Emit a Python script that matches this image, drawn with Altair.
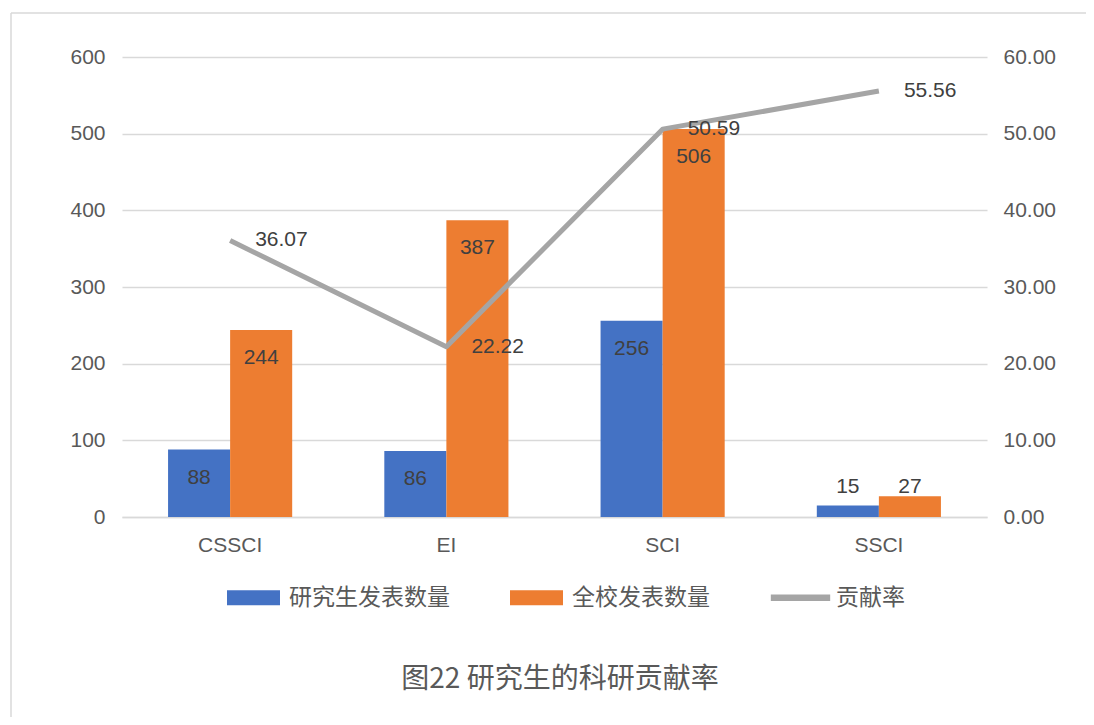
import altair as alt
import pandas as pd

categories = ["CSSCI", "EI", "SCI", "SSCI"]
grad_counts = [88, 86, 256, 15]
school_counts = [244, 387, 506, 27]
rates = [36.07, 22.22, 50.59, 55.56]
series_names = ["研究生发表数量", "全校发表数量", "贡献率"]
left_ticks = [0, 100, 200, 300, 400, 500, 600]
right_ticks = [0, 10, 20, 30, 40, 50, 60]
title_text = "图22 研究生的科研贡献率"

BLUE, ORANGE, GRAY = "#4472C4", "#ED7D31", "#A5A5A5"
NUM_FONT = "Liberation Sans"
CJK_FONT = "Noto Sans CJK SC"

RECT_PATH = "M-1,-0.283H1V0.283H-1Z"
LINE_PATH = "M-1.12,-0.12H1.12V0.12H-1.12Z"

rows = []
for c, g, s in zip(categories, grad_counts, school_counts):
    rows.append({"cat": c, "series": series_names[0], "v": g})
    rows.append({"cat": c, "series": series_names[1], "v": s})
bars_df = pd.DataFrame(rows)
line_df = pd.DataFrame({"cat": categories, "rate": rates})
legend_df = pd.DataFrame({"series": series_names})

color_scale = alt.Scale(domain=series_names, range=[BLUE, ORANGE, GRAY])
legend_kw = dict(title=None, orient="none", direction="horizontal",
                 legendX=105, legendY=514, padding=0,
                 symbolSize=2809, symbolStrokeWidth=0,
                 labelFont=CJK_FONT, labelFontSize=23,
                 labelColor="#595959", labelOffset=9,
                 columnPadding=60, labelLimit=400)

x_enc = alt.X("cat:N", sort=categories,
              scale=alt.Scale(domain=categories, paddingInner=0.426, paddingOuter=0.213),
              axis=alt.Axis(title=None, labelAngle=0, ticks=False, domain=True,
                            domainColor="#d9d9d9", domainWidth=1.3, labelPadding=17,
                            labelFont=NUM_FONT, labelFontSize=21, labelColor="#595959"))
xoff = alt.XOffset("series:N", sort=series_names[:2],
                   scale=alt.Scale(domain=series_names[:2], paddingInner=0, paddingOuter=0))
y_left = alt.Y("v:Q", scale=alt.Scale(domain=[0, 600], nice=False),
               axis=alt.Axis(title=None, values=left_ticks, grid=True, gridColor="#d9d9d9",
                             gridWidth=1.3, domain=False, ticks=False, labelPadding=17,
                             labelFont=NUM_FONT, labelFontSize=21, labelColor="#595959"))

bars = alt.Chart(bars_df).mark_bar().encode(
    x=x_enc,
    xOffset=xoff,
    y=y_left,
    color=alt.Color("series:N", scale=color_scale, sort=series_names,
                    legend=alt.Legend(**legend_kw)),
)

bar_labels = alt.Chart(bars_df).transform_calculate(
    ly="max(datum.v - 36.5, 39)"
).mark_text(font=NUM_FONT, fontSize=21, color="#404040", baseline="middle").encode(
    x=alt.X("cat:N", sort=categories),
    xOffset=alt.XOffset("series:N", sort=series_names[:2]),
    y=alt.Y("ly:Q"),
    text=alt.Text("v:Q"),
)

left = alt.layer(bars, bar_labels)

y_right = alt.Y("rate:Q", scale=alt.Scale(domain=[0, 60], nice=False),
                axis=alt.Axis(title=None, orient="right", values=right_ticks, format=".2f",
                              grid=False, domain=False, ticks=False, labelPadding=16,
                              labelFont=NUM_FONT, labelFontSize=21, labelColor="#595959"))

line = alt.Chart(line_df).mark_line(color=GRAY, strokeWidth=5, strokeJoin="round").encode(
    x=alt.X("cat:N", sort=categories),
    y=y_right,
)
line_labels = alt.Chart(line_df).mark_text(font=NUM_FONT, fontSize=21, color="#404040",
                                           align="left", baseline="middle", dx=25).encode(
    x=alt.X("cat:N", sort=categories),
    y=alt.Y("rate:Q"),
    text=alt.Text("rate:Q", format=".2f"),
)
right = alt.layer(line, line_labels)

legend_layer = alt.Chart(legend_df).mark_point(filled=True, opacity=1).encode(
    x=alt.value(-3000), y=alt.value(-3000),
    color=alt.Color("series:N", scale=color_scale, sort=series_names,
                    legend=alt.Legend(**legend_kw)),
    shape=alt.Shape("series:N", sort=series_names,
                    scale=alt.Scale(domain=series_names,
                                    range=[RECT_PATH, RECT_PATH, LINE_PATH]),
                    legend=alt.Legend(**legend_kw)),
)

title_layer = alt.Chart(alt.Data(values=[{}])).mark_text(
    font=CJK_FONT, fontSize=28, color="#595959", baseline="middle", align="center"
).encode(x=alt.value(438), y=alt.value(623), text=alt.value(title_text))

frame_top = alt.Chart(alt.Data(values=[{}])).mark_rule(
    color="#d9d9d9", strokeWidth=1.5
).encode(x=alt.value(-111), x2=alt.value(1000), y=alt.value(-44))
frame_left = alt.Chart(alt.Data(values=[{}])).mark_rule(
    color="#d9d9d9", strokeWidth=1.5
).encode(x=alt.value(-111), y=alt.value(-44), y2=alt.value(700))

chart = alt.layer(frame_top, frame_left, left, right, legend_layer, title_layer).resolve_scale(
    y="independent"
).properties(
    width=865, height=460,
    background="white",
    autosize=alt.AutoSizeParams(type="none"),
    padding={"left": 114, "top": 49, "right": 99, "bottom": 200},
).configure_view(strokeWidth=0)

chart.save("out.html", embed_options={"renderer": "svg", "actions": False})
